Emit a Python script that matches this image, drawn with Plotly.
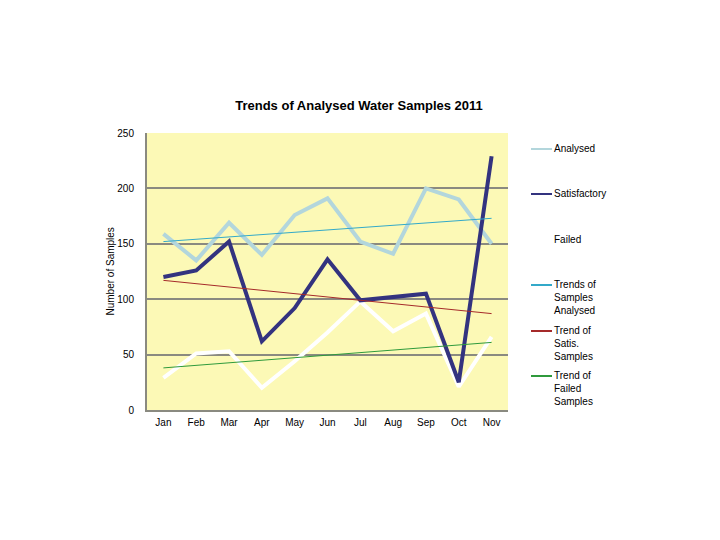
import plotly.graph_objects as go

months = ["Jan", "Feb", "Mar", "Apr", "May", "Jun", "Jul", "Aug", "Sep", "Oct", "Nov"]
analysed = [159, 135, 169, 140, 176, 191, 152, 141, 200, 190, 150]
satisfactory = [120, 126, 152, 62, 92, 136, 99, 102, 105, 25, 229]
failed = [29, 51, 53, 20, 44, 70, 98, 71, 87, 21, 66]

trend_months = ["Jan", "Nov"]
trend_analysed = [152, 173]
trend_satis = [117, 87]
trend_failed = [38, 61]

y_ticks = [0, 50, 100, 150, 200, 250]

legend_labels = ["Analysed", "Satisfactory", "Failed",
                 "Trends of<br>Samples<br>Analysed",
                 "Trend of<br>Satis.<br>Samples",
                 "Trend of<br>Failed<br>Samples"]
legend_colors = ["#b3d6dc", "#33337f", "#ffffff", "#33a9c9", "#a52a2a", "#2f9a3c"]

FONT = "Liberation Sans, Arial, sans-serif"
# page body has an 8px margin, so the figure is drawn 8px smaller and all positions shifted
W, H = 712, 532
PL, PR, PT, PB = 139, 500, 125, 402  # plot area in figure pixels
PW, PH = PR - PL, PB - PT
legend_y_px = [141, 186, 232, 277, 323, 368]


def px_x(x):
    return (x - PL) / PW


def px_y(y):
    return (PB - y) / PH


fig = go.Figure()
fig.add_trace(go.Scatter(x=months, y=analysed, mode="lines", name="Analysed",
                         line=dict(color=legend_colors[0], width=4)))
fig.add_trace(go.Scatter(x=months, y=failed, mode="lines", name="Failed",
                         line=dict(color=legend_colors[2], width=4)))
fig.add_trace(go.Scatter(x=months, y=satisfactory, mode="lines", name="Satisfactory",
                         line=dict(color=legend_colors[1], width=4)))
fig.add_trace(go.Scatter(x=trend_months, y=trend_analysed, mode="lines", name="Trends of Samples Analysed",
                         line=dict(color=legend_colors[3], width=1)))
fig.add_trace(go.Scatter(x=trend_months, y=trend_satis, mode="lines", name="Trend of Satis. Samples",
                         line=dict(color=legend_colors[4], width=1)))
fig.add_trace(go.Scatter(x=trend_months, y=trend_failed, mode="lines", name="Trend of Failed Samples",
                         line=dict(color=legend_colors[5], width=1)))

# manual legend matching the reference layout
for lab, col, ypx in zip(legend_labels, legend_colors, legend_y_px):
    fig.add_shape(type="line", xref="paper", yref="paper",
                  x0=px_x(523), x1=px_x(544), y0=px_y(ypx), y1=px_y(ypx),
                  line=dict(color=col, width=2))
    fig.add_annotation(xref="paper", yref="paper", x=px_x(544), y=px_y(ypx - 8),
                       text=lab, showarrow=False, xanchor="left", yanchor="top",
                       align="left", font=dict(family=FONT, size=10, color="#000000"))

# y-axis title
fig.add_annotation(xref="paper", yref="paper", x=px_x(102), y=0.5,
                   text="Number of Samples", showarrow=False, textangle=-90,
                   xanchor="center", yanchor="middle",
                   font=dict(family=FONT, size=10, color="#000000"))

fig.update_layout(
    width=W, height=H,
    margin=dict(l=PL, r=W - PR, t=PT, b=H - PB, autoexpand=False),
    paper_bgcolor="#ffffff",
    plot_bgcolor="#fcf9b6",
    showlegend=False,
    title=dict(text="<b>Trends of Analysed Water Samples 2011</b>",
               x=351 / W, xref="container", xanchor="center",
               y=1 - 97 / H, yref="container", yanchor="middle",
               font=dict(family=FONT, size=13, color="#000000")),
    font=dict(family=FONT, size=10, color="#000000"),
)
fig.update_xaxes(type="category", categoryorder="array", categoryarray=months,
                 range=[-0.5, 10.5], showgrid=False, showline=True,
                 linecolor="#8a8a80", linewidth=2, ticks="", zeroline=False,
                 tickfont=dict(family=FONT, size=10, color="#000000"),
                 ticklabelstandoff=2, fixedrange=True)
fig.update_yaxes(range=[0, 250], tickvals=y_ticks, showgrid=True,
                 gridcolor="#8a8a80", gridwidth=2, showline=True,
                 linecolor="#8a8a80", linewidth=2, zeroline=False,
                 ticks="", ticklabelstandoff=9,
                 tickfont=dict(family=FONT, size=10, color="#000000"))

fig.write_html("out.html")
